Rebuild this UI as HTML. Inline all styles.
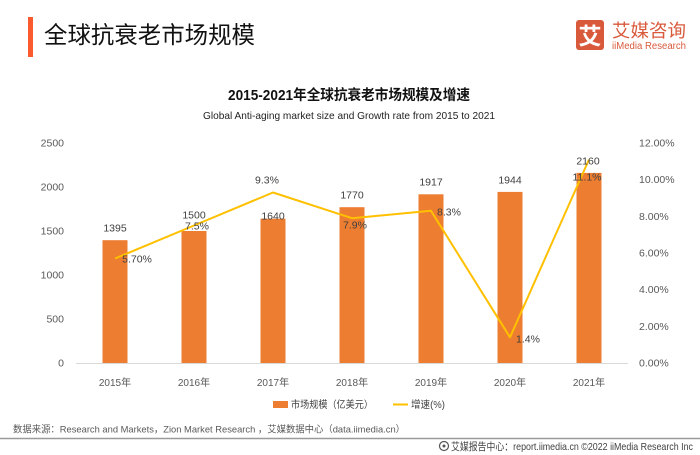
<!DOCTYPE html>
<html><head><meta charset="utf-8"><style>
html,body{margin:0;padding:0;background:#fff;}
svg{display:block;}
text{font-family:"Liberation Sans","Noto Sans CJK SC",sans-serif;}
</style></head><body>
<svg width="700" height="455" viewBox="0 0 700 455" xmlns="http://www.w3.org/2000/svg">
<rect width="700" height="455" fill="#fff"/>
<!-- header -->
<rect x="28" y="17" width="5" height="40" fill="#FA5A2E"/>
<text x="44" y="43" font-size="23.5" fill="#111" textLength="211" lengthAdjust="spacingAndGlyphs">全球抗衰老市场规模</text>
<!-- logo -->
<rect x="576" y="20" width="28" height="30" rx="3" fill="#D95A3B"/>
<text x="590" y="44" font-size="23" fill="#fff" text-anchor="middle" font-weight="bold">艾</text>
<text x="612" y="37" font-size="18" fill="#D95A3B" textLength="74" lengthAdjust="spacingAndGlyphs">艾媒咨询</text>
<text x="612" y="49" font-size="10" fill="#D95A3B" textLength="74" lengthAdjust="spacingAndGlyphs">iiMedia Research</text>
<!-- chart title -->
<text x="349" y="100" font-size="14.5" font-weight="bold" fill="#111" text-anchor="middle" textLength="242" lengthAdjust="spacingAndGlyphs">2015-2021年全球抗衰老市场规模及增速</text>
<text x="349" y="119" font-size="10.5" fill="#222" text-anchor="middle" textLength="292" lengthAdjust="spacingAndGlyphs">Global Anti-aging market size and Growth rate from 2015 to 2021</text>
<!-- left ticks -->
<g font-size="10.5" fill="#595959" text-anchor="end">
<text x="64" y="366.5">0</text>
<text x="64" y="322.5">500</text>
<text x="64" y="278.5">1000</text>
<text x="64" y="234.5">1500</text>
<text x="64" y="190.5">2000</text>
<text x="64" y="146.5">2500</text>
</g>
<!-- right ticks -->
<g font-size="10.5" fill="#595959">
<text x="639" y="366.5">0.00%</text>
<text x="639" y="329.8">2.00%</text>
<text x="639" y="293.2">4.00%</text>
<text x="639" y="256.5">6.00%</text>
<text x="639" y="219.8">8.00%</text>
<text x="639" y="183.2">10.00%</text>
<text x="639" y="146.5">12.00%</text>
</g>
<!-- bars -->
<g fill="#ED7D31">
<rect x="102.5" y="240.2" width="25" height="122.8"/>
<rect x="181.5" y="231" width="25" height="132"/>
<rect x="260.5" y="218.7" width="25" height="144.3"/>
<rect x="339.5" y="207.2" width="25" height="155.8"/>
<rect x="418.5" y="194.3" width="25" height="168.7"/>
<rect x="497.5" y="191.9" width="25" height="171.1"/>
<rect x="576.5" y="172.9" width="25" height="190.1"/>
</g>
<line x1="76" y1="363.5" x2="628" y2="363.5" stroke="#D9D9D9" stroke-width="1"/>
<!-- line -->
<polyline points="115,258.5 194,225.5 273,192.5 352,218.2 431,210.8 510,337.3 589,159.5" fill="none" stroke="#FFC000" stroke-width="2" stroke-linejoin="round"/>
<!-- bar labels -->
<g font-size="10.5" fill="#404040" text-anchor="middle">
<text x="115" y="231.7">1395</text>
<text x="194" y="218.7">1500</text>
<text x="273" y="219.7">1640</text>
<text x="352" y="198.7">1770</text>
<text x="431" y="185.7">1917</text>
<text x="510" y="183.7">1944</text>
<text x="588" y="164.7">2160</text>
</g>
<!-- pct labels -->
<g font-size="10.5" fill="#404040" text-anchor="middle">
<text x="137" y="262.7">5.70%</text>
<text x="197" y="229.7">7.5%</text>
<text x="267" y="183.7">9.3%</text>
<text x="355" y="228.7">7.9%</text>
<text x="449" y="215.7">8.3%</text>
<text x="528" y="342.7">1.4%</text>
<text x="587" y="180.7">11.1%</text>
</g>
<!-- x labels -->
<g font-size="10" fill="#595959" text-anchor="middle">
<text x="115" y="386">2015年</text>
<text x="194" y="386">2016年</text>
<text x="273" y="386">2017年</text>
<text x="352" y="386">2018年</text>
<text x="431" y="386">2019年</text>
<text x="510" y="386">2020年</text>
<text x="589" y="386">2021年</text>
</g>
<!-- legend -->
<rect x="273" y="401" width="15" height="7" fill="#ED7D31"/>
<text x="291" y="408" font-size="10" fill="#404040" textLength="82" lengthAdjust="spacingAndGlyphs">市场规模（亿美元）</text>
<line x1="393" y1="404.5" x2="408" y2="404.5" stroke="#FFC000" stroke-width="2"/>
<text x="411" y="408" font-size="10" fill="#404040" textLength="34" lengthAdjust="spacingAndGlyphs">增速(%)</text>
<!-- source -->
<text x="13" y="432.5" font-size="9.5" fill="#595959" textLength="392" lengthAdjust="spacingAndGlyphs">数据来源：Research and Markets，Zion Market Research ，艾媒数据中心（data.iimedia.cn）</text>
<line x1="0" y1="438.5" x2="700" y2="438.5" stroke="#9A9A9A" stroke-width="1.5"/>
<!-- footer -->
<circle cx="444" cy="446" r="4.5" fill="none" stroke="#555" stroke-width="1.2"/>
<circle cx="444" cy="446" r="1.5" fill="#555"/>
<text x="451" y="450" font-size="10.5" fill="#404040" textLength="242" lengthAdjust="spacingAndGlyphs">艾媒报告中心：report.iimedia.cn  ©2022  iiMedia Research  Inc</text>
</svg>
</body></html>
